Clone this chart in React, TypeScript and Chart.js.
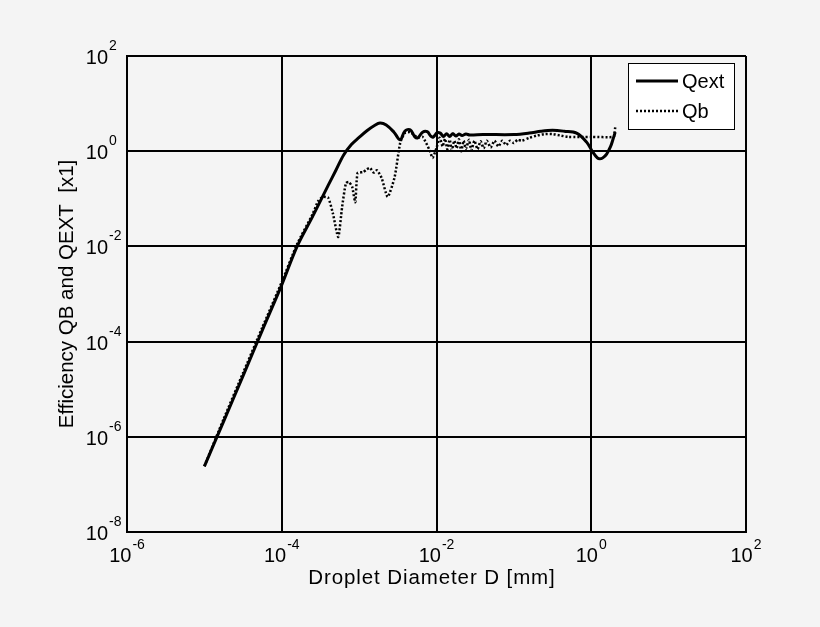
import { useEffect, useRef } from "react";
import { Chart, registerables } from "chart.js";
Chart.register(...registerables);

// ── Data ─────────────────────────────────────────────────────────────────────

// droplet diameter D [mm] / extinction efficiency
const D_EXT = [
  1.0e-5, 1.78e-5, 3.16e-5, 5.62e-5, 1.0e-4, 1.58e-4, 2.51e-4, 3.98e-4, 5.01e-4,
  6.31e-4, 7.94e-4, 1.0e-3, 1.26e-3, 1.58e-3, 1.86e-3, 2.24e-3, 2.82e-3, 3.39e-3,
  3.89e-3, 4.57e-3, 5.25e-3, 5.75e-3, 6.61e-3, 7.59e-3, 8.51e-3, 9.12e-3, 1.02e-2,
  1.12e-2, 1.23e-2, 1.35e-2, 1.48e-2, 1.62e-2, 1.78e-2, 1.95e-2, 2.14e-2, 2.4e-2,
  2.69e-2, 3.98e-2, 0.1, 0.158, 0.224, 0.316, 0.447, 0.646, 0.871, 1.047, 1.2,
  1.29, 1.41, 1.58, 1.78, 1.91, 2.04,
];
const Q_EXT = [
  2.4e-7, 2.14e-6, 1.9e-5, 1.74e-4, 1.55e-3, 1.0e-2, 4.27e-2, 0.191, 0.398,
  0.832, 1.38, 1.95, 2.69, 3.47, 3.89, 3.55, 2.51, 1.74,
  2.63, 2.82, 2.0, 1.91, 2.51, 2.57, 2.04, 2.0, 2.45,
  2.4, 2.04, 2.34, 2.04, 2.34, 2.09, 2.29, 2.14, 2.29,
  2.19, 2.24, 2.24, 2.4, 2.63, 2.75, 2.63, 2.4, 1.55, 0.955, 0.724,
  0.692, 0.724, 0.871, 1.26, 1.78, 2.51,
];

// droplet diameter D [mm] / backscatter efficiency
const D_B = [
  1.0e-5, 1.78e-5, 3.16e-5, 5.62e-5, 1.0e-4, 1.58e-4, 2.51e-4, 2.95e-4, 3.39e-4,
  3.98e-4, 4.57e-4, 5.37e-4, 6.03e-4, 6.76e-4, 7.41e-4, 8.13e-4, 8.91e-4, 9.55e-4,
  1.12e-3, 1.26e-3, 1.38e-3, 1.55e-3, 1.7e-3, 1.95e-3, 2.34e-3, 2.88e-3, 3.39e-3,
  3.89e-3, 4.57e-3, 5.75e-3, 6.61e-3, 8.13e-3, 8.91e-3, 1.0e-2, 1.1e-2, 1.2e-2,
  1.29e-2, 1.38e-2, 1.48e-2, 1.58e-2, 1.7e-2, 1.82e-2, 1.95e-2, 2.09e-2, 2.24e-2,
  2.4e-2, 2.63e-2, 2.82e-2, 3.09e-2, 3.39e-2, 3.72e-2, 4.07e-2, 4.47e-2, 5.01e-2,
  5.62e-2, 6.31e-2, 7.08e-2, 7.94e-2, 8.91e-2, 0.1, 0.112, 0.126, 0.158, 0.2,
  0.251, 0.316, 0.398, 0.501, 1.0, 1.95, 2.0, 2.04,
];
const Q_B = [
  2.4e-7, 2.4e-6, 2.19e-5, 2.0e-4, 1.78e-3, 1.12e-2, 4.79e-2, 8.91e-2, 0.11,
  0.105, 5.01e-2, 1.58e-2, 6.76e-2, 0.214, 0.224, 0.178, 8.51e-2, 0.347,
  0.363, 0.417, 0.447, 0.355, 0.398, 0.275, 0.11, 0.288, 1.48,
  2.4, 2.51, 1.91, 2.0, 1.05, 0.724, 1.17, 1.91, 1.26,
  1.82, 1.1, 1.74, 1.05, 1.66, 1.15, 1.78, 1.0, 1.66,
  1.12, 1.74, 1.05, 1.66, 1.1, 1.62, 1.15, 1.66, 1.2,
  1.66, 1.26, 1.66, 1.35, 1.66, 1.48, 1.74, 1.66, 1.91, 2.14,
  2.29, 2.29, 2.14, 2.0, 2.0, 2.0, 2.4, 3.16,
];

const X_TICKS = [1e-6, 1e-4, 1e-2, 1, 1e2];
const X_EXP = ["-6", "-4", "-2", "0", "2"];
const Y_TICKS = [1e-8, 1e-6, 1e-4, 1e-2, 1, 1e2];
const Y_EXP = ["-8", "-6", "-4", "-2", "0", "2"];

const FONT = "'Liberation Sans', Arial, sans-serif";
const BG = "#f4f4f4";

// ── Text drawn MATLAB-style (10 with raised exponent) ────────────────────────

function drawPow(ctx: CanvasRenderingContext2D, exp: string, x: number, base: number, center: boolean, rise: number) {
  ctx.font = `20px ${FONT}`;
  const w10 = ctx.measureText("10").width;
  ctx.font = `14px ${FONT}`;
  const we = ctx.measureText(exp).width;
  const start = center ? x - (w10 + we + 1) / 2 : x - w10;
  ctx.textAlign = "left";
  ctx.textBaseline = "alphabetic";
  ctx.font = `20px ${FONT}`;
  ctx.fillText("10", start, base);
  ctx.font = `14px ${FONT}`;
  ctx.fillText(exp, start + w10 + 1, base - rise);
}

const matlabText = {
  id: "matlabText",
  beforeDraw(chart: Chart) {
    const ctx = chart.ctx;
    ctx.save();
    ctx.fillStyle = BG;
    ctx.fillRect(0, 0, chart.width, chart.height);
    ctx.restore();
  },
  afterDraw(chart: Chart) {
    const ctx = chart.ctx;
    const xs = chart.scales.x;
    const ys = chart.scales.y;
    ctx.save();
    ctx.fillStyle = "#000";

    X_TICKS.forEach((v, i) => drawPow(ctx, X_EXP[i], xs.getPixelForValue(v), 562, true, 13));
    Y_TICKS.forEach((v, i) => drawPow(ctx, Y_EXP[i], 108, ys.getPixelForValue(v) + 8, false, 14));

    // axis titles
    ctx.font = `20.5px ${FONT}`;
    ctx.textAlign = "center";
    ctx.textBaseline = "alphabetic";
    (ctx as any).letterSpacing = "0.9px";
    ctx.fillText("Droplet Diameter D [mm]", 432, 584);
    (ctx as any).letterSpacing = "0px";
    ctx.save();
    ctx.translate(73, 294);
    ctx.rotate(-Math.PI / 2);
    ctx.fillText("Efficiency QB and QEXT  [x1]", 0, 0);
    ctx.restore();

    // legend
    const lx = 628, ly = 63, lw = 106, lh = 66;
    ctx.fillStyle = "#fff";
    ctx.fillRect(lx, ly, lw, lh);
    ctx.strokeStyle = "#000";
    ctx.lineWidth = 1;
    ctx.strokeRect(lx + 0.5, ly + 0.5, lw, lh);

    ctx.lineWidth = 3;
    ctx.beginPath();
    ctx.moveTo(636, 81);
    ctx.lineTo(678, 81);
    ctx.stroke();
    ctx.lineWidth = 2.5;
    ctx.setLineDash([2, 2]);
    ctx.beginPath();
    ctx.moveTo(636, 111);
    ctx.lineTo(678, 111);
    ctx.stroke();
    ctx.setLineDash([]);

    ctx.fillStyle = "#000";
    ctx.font = `20px ${FONT}`;
    ctx.textAlign = "left";
    ctx.textBaseline = "middle";
    ctx.fillText("Qext", 682, 82);
    ctx.fillText("Qb", 682, 112);
    ctx.restore();
  },
};

// ── Chart ────────────────────────────────────────────────────────────────────

function EfficiencyChart() {
  const ref = useRef<HTMLCanvasElement>(null);
  const chartRef = useRef<Chart | null>(null);

  useEffect(() => {
    if (!ref.current) return;
    chartRef.current?.destroy();

    chartRef.current = new Chart(ref.current, {
      type: "line",
      data: {
        datasets: [
          {
            label: "Qext",
            data: D_EXT.map((d, i) => ({ x: d, y: Q_EXT[i] })),
            borderColor: "#000",
            borderWidth: 3,
            pointRadius: 0,
            tension: 0.35,
            fill: false,
          },
          {
            label: "Qb",
            data: D_B.map((d, i) => ({ x: d, y: Q_B[i] })),
            borderColor: "#000",
            borderWidth: 2.5,
            borderDash: [2, 2],
            pointRadius: 0,
            tension: 0.2,
            fill: false,
          },
        ],
      },
      options: {
        responsive: false,
        animation: false,
        layout: { padding: { left: 127, top: 56, right: 74, bottom: 95 } },
        plugins: { legend: { display: false }, tooltip: { enabled: false } },
        scales: {
          x: {
            type: "logarithmic",
            min: 1e-6,
            max: 1e2,
            afterBuildTicks: (axis) => { axis.ticks = X_TICKS.map((value) => ({ value })); },
            ticks: { display: false },
            grid: { color: "#000", lineWidth: 2, drawTicks: false },
            border: { color: "#000", width: 2 },
          },
          y: {
            type: "logarithmic",
            min: 1e-8,
            max: 1e2,
            afterBuildTicks: (axis) => { axis.ticks = Y_TICKS.map((value) => ({ value })); },
            ticks: { display: false },
            grid: { color: "#000", lineWidth: 2, drawTicks: false },
            border: { color: "#000", width: 2 },
          },
        },
      },
      plugins: [matlabText],
    });

    return () => chartRef.current?.destroy();
  }, []);

  return <canvas ref={ref} width={820} height={627} style={{ display: "block" }} />;
}

export default function App() {
  useEffect(() => {
    document.body.style.margin = "0";
    document.body.style.background = BG;
  }, []);
  return <EfficiencyChart />;
}
